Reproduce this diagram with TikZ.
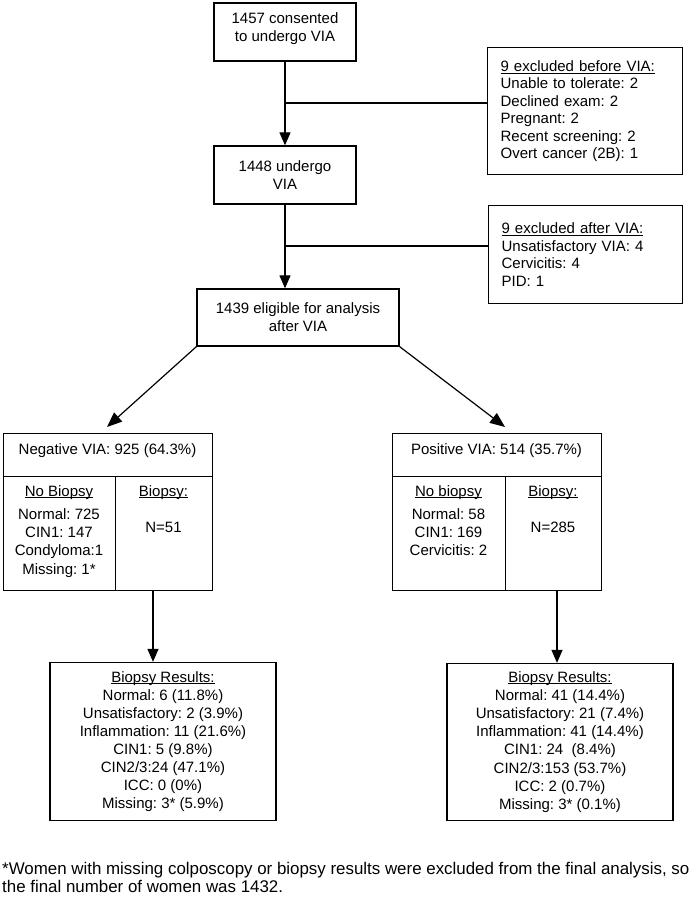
\documentclass[tikz,border=0pt]{standalone}
\usepackage{fontspec}
\setmainfont{Liberation Sans}
\usetikzlibrary{arrows.meta}
\frenchspacing
\newcommand\uln[2][2.2pt]{\setbox0\hbox{#2}\rlap{\rule[-#1]{\wd0}{0.9pt}}\box0}
\begin{document}
\begin{tikzpicture}[x=1pt,y=-1pt,
  every node/.style={inner sep=0pt, font=\fontsize{15}{18}\selectfont},
  box/.style={draw, line width=1.3pt, align=center},
  txt/.style={align=center, anchor=north},
  exbox/.style={box, anchor=north west, align=left, inner xsep=13pt, font=\fontsize{15}{17.5}\selectfont},
  conn/.style={line width=1.2pt},
  arr/.style={conn, -{Triangle[length=13pt,width=11pt]}},
  darr/.style={conn, -{Triangle[length=15pt,width=12pt]}}]
\useasboundingbox (0,0) rectangle (693,900);

% top chain
\node[box, minimum width=142, minimum height=58] (consent) at (285,32) {};
\node[txt, font=\fontsize{15}{17.5}\selectfont] (consentT) at (285,12.7) {1457 consented\\to undergo VIA};
\node[box, minimum width=142, minimum height=58] (undergo) at (285,175) {1448 undergo\\VIA};
\node[box, minimum width=202, minimum height=57] (elig) at (298,317.5) {1439 eligible for analysis\\after VIA};

% exclusion boxes
\node[exbox, minimum height=127, text width=169] (excl1) at (487,47)
  {\uln{9 excluded before VIA:}\\Unable to tolerate: 2\\Declined exam: 2\\Pregnant: 2\\Recent screening: 2\\Overt cancer (2B): 1};
\node[exbox, minimum height=98, text width=168] (excl2) at (488,205)
  {\uln{9 excluded after VIA:}\\Unsatisfactory VIA: 4\\Cervicitis: 4\\PID: 1};

\coordinate (j1) at (285,103);
\coordinate (j2) at (285,246);
\draw[arr] (consent.south) -- (undergo.north);
\draw[conn] (j1) -- (j1 -| excl1.west);
\draw[arr] (undergo.south) -- (undergo.south |- elig.north);
\draw[conn] (j2) -- (j2 -| excl2.west);

% negative VIA
\node[box, anchor=north west, minimum width=209, minimum height=43] (neghead) at (3,433) {};
\node (negheadT) at (107.5,450.5) {Negative VIA: 925 (64.3\%)};
\node[box, anchor=north west, minimum width=112, minimum height=114] (negL) at (3,476) {};
\node[box, anchor=north west, minimum width=97, minimum height=114] (negR) at (115,476) {};
\node[txt, font=\fontsize{15}{18.3}\selectfont] (negLT) at (59,485.5)
  {\uln[1.6pt]{No Biopsy}\\[4.3pt]Normal: 725\\CIN1: 147\\Condyloma:1\\Missing: 1*};
\node[txt, font=\fontsize{15}{18.3}\selectfont] (negRT) at (163.5,485.5)
  {\uln[1.6pt]{Biopsy:}\\[17.4pt]N=51};

% positive VIA
\node[box, anchor=north west, minimum width=209, minimum height=43] (poshead) at (392,433) {};
\node (posheadT) at (496.5,450.5) {Positive VIA: 514 (35.7\%)};
\node[box, anchor=north west, minimum width=113, minimum height=114] (posL) at (392,476) {};
\node[box, anchor=north west, minimum width=96, minimum height=114] (posR) at (505,476) {};
\node[txt, font=\fontsize{15}{18.3}\selectfont] (posLT) at (448.5,485.5)
  {\uln[1.6pt]{No biopsy}\\[4.3pt]Normal: 58\\CIN1: 169\\Cervicitis: 2};
\node[txt, font=\fontsize{15}{18.3}\selectfont] (posRT) at (553,485.5)
  {\uln[1.6pt]{Biopsy:}\\[17.4pt]N=285};

\coordinate (ntip) at (107,427);
\coordinate (ptip) at (505,427);
\draw[darr] (elig.south west) -- (ntip);
\draw[darr] (elig.south east) -- (ptip);

% biopsy results
\node[box, minimum width=226, minimum height=158, font=\fontsize{15}{18.1}\selectfont] (negres) at (163,741.5)
  {\uln[1.6pt]{Biopsy Results:}\\Normal: 6 (11.8\%)\\Unsatisfactory: 2 (3.9\%)\\Inflammation: 11 (21.6\%)\\CIN1: 5 (9.8\%)\\CIN2/3:24 (47.1\%)\\ICC: 0 (0\%)\\Missing: 3* (5.9\%)};
\node[box, minimum width=226, minimum height=157, font=\fontsize{15}{18.1}\selectfont] (posres) at (560,742)
  {\uln[1.6pt]{Biopsy Results:}\\Normal: 41 (14.4\%)\\Unsatisfactory: 21 (7.4\%)\\Inflammation: 41 (14.4\%)\\CIN1: 24~ (8.4\%)\\CIN2/3:153 (53.7\%)\\ICC: 2 (0.7\%)\\Missing: 3* (0.1\%)};

\coordinate (a1) at (153,0);
\coordinate (a2) at (557,0);
\draw[arr] (negR.south -| a1) -- (negres.north -| a1);
\draw[arr] (posR.south -| a2) -- (posres.north -| a2);

% footnote
\node[anchor=north west, align=left, font=\fontsize{16.9}{18}\selectfont] (foot) at (2,862)
  {*Women with missing colposcopy or biopsy results were excluded from the final analysis, so\\the final number of women was 1432.};
\end{tikzpicture}
\end{document}
